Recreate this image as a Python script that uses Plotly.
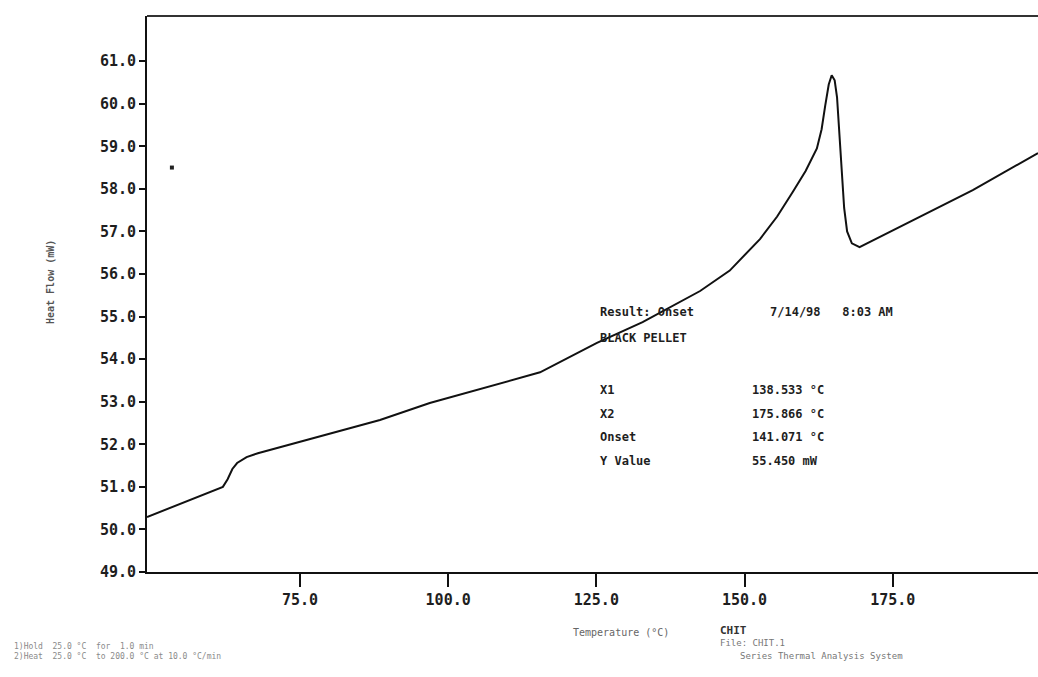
import plotly.graph_objects as go

# DSC heat-flow trace (Temperature in °C, Heat Flow in mW)
temperature = [49.2, 62.0, 62.8, 63.6, 64.4, 66.0, 67.9, 88.5, 96.9, 115.5, 125.1,
               132.8, 142.5, 147.5, 152.6, 155.5, 158.1, 160.3, 162.2, 163.0,
               163.6, 164.2, 164.7, 165.2, 165.6, 166.0, 166.4, 166.8, 167.3,
               168.1, 169.4, 177.4, 188.5, 199.5]
heat_flow = [50.29, 51.00, 51.18, 51.42, 51.56, 51.70, 51.79, 52.57, 52.97, 53.69, 54.38,
             54.87, 55.60, 56.08, 56.82, 57.35, 57.92, 58.42, 58.95, 59.40,
             59.95, 60.45, 60.67, 60.55, 60.15, 59.35, 58.35, 57.55, 57.00,
             56.72, 56.63, 57.19, 57.97, 58.84]

# stray marker near the top-left of the plot
marker_t = [53.4]
marker_hf = [58.5]

x_ticks = [75, 100, 125, 150, 175]
y_ticks = [49, 50, 51, 52, 53, 54, 55, 56, 57, 58, 59, 60, 61]

# result box
result_labels = ["X1", "X2", "Onset", "Y Value"]
result_values = ["138.533 °C", "175.866 °C", "141.071 °C", "55.450 mW"]

MONO = "DejaVu Sans Mono"
INK = "#1e1e1e"

fig = go.Figure()
fig.add_trace(go.Scatter(x=temperature, y=heat_flow, mode="lines",
                         line=dict(color="#111111", width=2), showlegend=False,
                         hoverinfo="skip"))
fig.add_trace(go.Scatter(x=marker_t, y=marker_hf, mode="markers",
                         marker=dict(color="#222222", size=4, symbol="square"),
                         showlegend=False, hoverinfo="skip"))

fig.update_layout(
    width=1038, height=677,
    margin=dict(l=147, r=0, t=16, b=105),
    paper_bgcolor="white", plot_bgcolor="white",
    font=dict(family=MONO, color=INK, size=12),
    xaxis=dict(range=[49.2, 199.5], tickvals=x_ticks,
               ticktext=[f"<b>{v:.1f}</b>" for v in x_ticks],
               showgrid=False, zeroline=False, showline=True,
               linecolor="#111111", linewidth=2,
               ticks="outside", ticklen=13, tickwidth=2, tickcolor="#111111",
               tickfont=dict(family=MONO, size=15, color=INK)),
    yaxis=dict(range=[49.0, 62.06], tickvals=y_ticks,
               ticktext=[f"<b>{v:.1f}</b>" for v in y_ticks],
               showgrid=False, zeroline=False, showline=True,
               linecolor="#111111", linewidth=2,
               ticks="outside", ticklen=6, tickwidth=2, tickcolor="#111111",
               tickfont=dict(family=MONO, size=15, color=INK)),
)

# top frame line
fig.add_shape(type="line", xref="paper", yref="paper", x0=0, x1=1, y0=1, y1=1,
              line=dict(color="#333333", width=2))

def px_to_paper_x(px):
    return (px - 147) / (1038 - 147)

def px_to_paper_y(py):
    return (572 - py) / (572 - 16)

def label(text, px, py, size=12, color=INK, anchor="left", bold=True, angle=0):
    return dict(text=f"<b>{text}</b>" if bold else text, xref="paper", yref="paper",
                x=px_to_paper_x(px), y=px_to_paper_y(py), textangle=angle,
                xanchor=anchor, yanchor="middle", showarrow=False,
                font=dict(family=MONO, size=size, color=color))

ann = []
# axis titles
ann.append(label("Heat Flow (mW)", 50, 282, size=10, color="#555555",
                 anchor="center", angle=-90))
ann.append(label("Temperature (°C)", 621, 632, size=10, color="#666666",
                 anchor="center", bold=False))

# result box text
ann.append(label("Result: Onset", 598, 312))
ann.append(label("7/14/98   8:03 AM", 768, 312))
ann.append(label("BLACK PELLET", 598, 338))
for i, (lab, val) in enumerate(zip(result_labels, result_values)):
    yy = 390 + i * 23.7
    ann.append(label(lab, 598, yy))
    ann.append(label(val, 750, yy))

# footer text
ann.append(label("CHIT", 718, 630, size=11, color="#333333"))
ann.append(label("File: CHIT.1", 718, 643, size=9, color="#777777", bold=False))
ann.append(label("Series Thermal Analysis System", 738, 656, size=9,
                 color="#777777", bold=False))
ann.append(label("1)Hold  25.0 °C  for  1.0 min", 12, 646, size=8,
                 color="#8a8a8a", bold=False))
ann.append(label("2)Heat  25.0 °C  to 200.0 °C at 10.0 °C/min", 12, 656, size=8,
                 color="#8a8a8a", bold=False))

fig.update_layout(annotations=ann)
fig.write_html("out.html")
